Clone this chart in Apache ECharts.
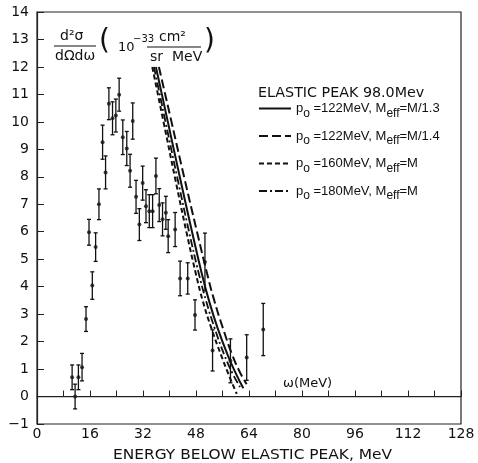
<!DOCTYPE html>
<html><head><meta charset="utf-8">
<script src="https://cdn.jsdelivr.net/npm/echarts@6/dist/echarts.min.js"></script>
<style>html,body{margin:0;padding:0;background:#fff}#c{width:478px;height:463px}</style>
</head><body><div id="c"></div>
<script>
// Data points: energy below elastic peak (MeV), cross-section, error
const ptX = [10.6,11.5,12.5,13.6,14.8,15.7,16.7,17.7,18.7,19.8,20.7,21.7,22.8,23.8,24.8,25.9,27.1,28.1,28.9,29.9,30.9,31.9,32.9,33.9,34.9,35.9,36.9,37.9,38.9,39.6,41.7,43.2,45.5,47.7,50.7,53.0,58.4,63.3,68.3];
const ptY = [0.7,0.0,0.7,1.07,2.82,5.98,4.04,5.44,7.0,9.26,8.16,10.66,10.13,10.23,10.99,9.44,9.03,8.22,10.03,7.27,6.26,7.77,6.93,6.75,6.75,8.03,6.97,6.45,6.69,5.84,6.08,4.3,4.3,2.97,4.9,1.68,1.3,1.42,2.44];
const ptErr = [0.45,0.45,0.45,0.5,0.45,0.47,0.5,0.52,0.56,0.62,0.6,0.58,0.6,0.6,0.6,0.63,0.62,0.6,0.66,0.6,0.58,0.62,0.6,0.6,0.6,0.65,0.6,0.6,0.6,0.6,0.62,0.63,0.57,0.55,1.05,0.75,0.8,0.83,0.95];

// Theory curves (x, y)
const solidX = [35.9,39.5,43.1,46.8,49.7,51.9,54.5,57.6,60.2,62.3];
const solidY = [12,10,8,6,4.5,3.5,2.5,1.5,0.8,0.3];
const longDashX = [36.8,40.6,44.4,48.3,51.3,53.5,56.1,59.0,61.4,63.3];
const longDashY = [12,10,8,6,4.5,3.5,2.5,1.5,0.85,0.45];
const shortDashX = [34.8,38.2,41.6,45.1,47.9,50.0,52.6,55.6,58.2,60.3];
const shortDashY = [12,10,8,6,4.5,3.5,2.5,1.5,0.7,0.1];
const dashDotX = [35.3,38.8,42.3,45.9,48.8,51.0,53.6,56.6,59.2,61.3];
const dashDotY = [12,10,8,6,4.5,3.5,2.5,1.5,0.8,0.35];

const zeroLineX = [0,128];
const zeroLineY = [0,0];

const curveNames = ['c1','c2','c3','c4'];
const xTicks = [0,16,32,48,64,80,96,112,128];

const FONT = 'DejaVu Sans';
const LFONT = 'Liberation Sans';
const pts = ptX.map((x,i)=>[x,ptY[i],ptErr[i]]);
const zip = (a,b)=>a.map((v,i)=>[v,b[i]]);

const rich = {
  a:{fontFamily:LFONT,fontSize:13,color:'#111'},
  s:{fontFamily:LFONT,fontSize:12,color:'#111',padding:[10,0,0,0]}
};
const legendLabels = {
  c1:'{a|p}{s|o}{a| =122MeV, M}{s|eff}{a|=M/1.3}',
  c2:'{a|p}{s|o}{a| =122MeV, M}{s|eff}{a|=M/1.4}',
  c3:'{a|p}{s|o}{a| =160MeV, M}{s|eff}{a|=M}',
  c4:'{a|p}{s|o}{a| =180MeV, M}{s|eff}{a|=M}'
};

const dy = 8;
const chart = echarts.init(document.getElementById('c'));
chart.setOption({
  animation:false,
  backgroundColor:'#fff',
  grid:{left:37,right:17,top:12,bottom:39,show:true,borderColor:'#222',borderWidth:1.2},
  xAxis:{type:'value',min:0,max:128,interval:8,
    axisLine:{lineStyle:{color:'#222',width:1.2}},
    axisTick:{inside:true,length:6,lineStyle:{color:'#222'}},
    axisLabel:{fontFamily:FONT,fontSize:14,color:'#111',margin:3,
      formatter:v=>xTicks.indexOf(v)>=0?String(v):''},
    splitLine:{show:false}},
  yAxis:{type:'value',min:-1,max:14,interval:1,
    axisLine:{show:true,lineStyle:{color:'#222',width:1.2}},
    axisTick:{show:true,inside:true,length:7,lineStyle:{color:'#222'}},
    axisLabel:{fontFamily:FONT,fontSize:14,color:'#111',margin:8,
      formatter:v=>v<0?'−'+Math.abs(v):String(v)},
    splitLine:{show:false}},
  legend:{data:curveNames,orient:'vertical',left:253,top:97,itemWidth:32,itemHeight:12,itemGap:10,
    itemStyle:{opacity:0},
    formatter:n=>legendLabels[n],textStyle:{rich:rich},selectedMode:false},
  graphic:[
    {type:'text',x:113,y:448,scaleX:1.1,style:{text:'ENERGY BELOW ELASTIC PEAK, MeV',fontFamily:FONT,fontSize:14,fill:'#111'}},
    {type:'text',x:258,y:86,scaleX:1.02,style:{text:'ELASTIC PEAK 98.0Mev',fontFamily:FONT,fontSize:14,fill:'#111'}},
    {type:'text',left:283,top:377,style:{text:'ω(MeV)',fontFamily:FONT,fontSize:13,fill:'#111'}},
    {type:'text',left:60,top:21+dy,style:{text:'d²σ',fontFamily:FONT,fontSize:14,fill:'#111'}},
    {type:'line',shape:{x1:54,y1:38+dy,x2:96,y2:38+dy},style:{stroke:'#111',lineWidth:1.2}},
    {type:'text',left:55,top:41+dy,style:{text:'dΩdω',fontFamily:FONT,fontSize:14,fill:'#111'}},
    {type:'text',left:99,top:20+dy,style:{text:'(',fontFamily:FONT,fontSize:28,fill:'#111'}},
    {type:'text',left:118,top:33+dy,style:{text:'10',fontFamily:FONT,fontSize:13,fill:'#111'}},
    {type:'text',left:133,top:26+dy,style:{text:'−33',fontFamily:FONT,fontSize:10,fill:'#111'}},
    {type:'text',left:159,top:22+dy,style:{text:'cm²',fontFamily:FONT,fontSize:14,fill:'#111'}},
    {type:'line',shape:{x1:147,y1:39+dy,x2:201,y2:39+dy},style:{stroke:'#111',lineWidth:1.2}},
    {type:'text',left:150,top:42+dy,style:{text:'sr  MeV',fontFamily:FONT,fontSize:14,fill:'#111'}},
    {type:'text',left:204,top:20+dy,style:{text:')',fontFamily:FONT,fontSize:28,fill:'#111'}}
  ],
  series:[
    {name:'c1',type:'line',data:zip(solidX,solidY),smooth:0.5,symbol:'none',
      lineStyle:{color:'#111',width:2,type:'solid'},itemStyle:{color:'#111'}},
    {name:'c2',type:'line',data:zip(longDashX,longDashY),smooth:0.5,symbol:'none',
      lineStyle:{color:'#111',width:2,type:[9,4]},itemStyle:{color:'#111'}},
    {name:'c3',type:'line',data:zip(shortDashX,shortDashY),smooth:0.5,symbol:'none',
      lineStyle:{color:'#111',width:2,type:[5,3]},itemStyle:{color:'#111'}},
    {name:'c4',type:'line',data:zip(dashDotX,dashDotY),smooth:0.5,symbol:'none',
      lineStyle:{color:'#111',width:1.8,type:[8,3,2,3]},itemStyle:{color:'#111'}},
    {name:'zero',type:'line',data:zip(zeroLineX,zeroLineY),symbol:'none',silent:true,
      lineStyle:{color:'#222',width:1.3}},
    {name:'err',type:'custom',data:pts,silent:true,
      renderItem:(params,api)=>{
        const x=api.value(0),y=api.value(1),e=api.value(2);
        const top=api.coord([x,y+e]),bot=api.coord([x,y-e]);
        const w=2;
        return {type:'group',children:[
          {type:'line',shape:{x1:top[0],y1:top[1],x2:bot[0],y2:bot[1]},style:{stroke:'#111',lineWidth:1.3}},
          {type:'line',shape:{x1:top[0]-w,y1:top[1],x2:top[0]+w,y2:top[1]},style:{stroke:'#111',lineWidth:1.3}},
          {type:'line',shape:{x1:bot[0]-w,y1:bot[1],x2:bot[0]+w,y2:bot[1]},style:{stroke:'#111',lineWidth:1.3}}
        ]};
      }},
    {name:'pts',type:'scatter',data:pts.map(p=>[p[0],p[1]]),symbol:'circle',symbolSize:4,
      itemStyle:{color:'#111'},silent:true}
  ]
});
</script></body></html>
